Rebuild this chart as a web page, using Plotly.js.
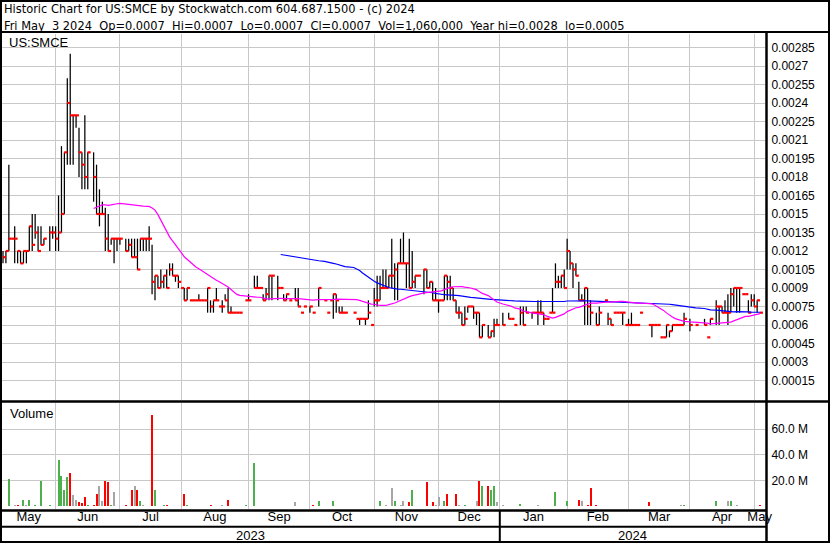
<!DOCTYPE html>
<html><head><meta charset="utf-8">
<script src="https://cdn.plot.ly/plotly-3.0.1.min.js"></script>
<style>html,body{margin:0;padding:0;background:#fff;}#chart{width:830px;height:543px;}</style>
</head><body><div id="chart"></div>
<script>
// ---------- calendar (one slot per weekday) ----------
const firstDay = '2023-05-08', lastDay = '2024-05-03';
function weekdayCalendar(a, b) {
  const out = []; const d = new Date(a + 'T00:00:00Z'); const e = new Date(b + 'T00:00:00Z');
  while (d <= e) { const w = d.getUTCDay(); if (w !== 0 && w !== 6) out.push(d.toISOString().slice(0, 10)); d.setUTCDate(d.getUTCDate() + 1); }
  return out;
}
const dates = weekdayCalendar(firstDay, lastDay);

// ---------- daily data (null = no trade / holiday) ----------
const high = [
 .0012,.0012,.0019,.0013,.0014,.0012,.0012,.0012,.0012,.0014,.0015,.0015,.0014,.0014,.0013,null,.0014,.0014,
 .0014,.00165,.00205,.002,.0026,.0028,.0023,.0023,.0022,.002,.0023,.002,null,.002,.0019,.0017,.0016,.00155,.0015,.0013,.0013,.0013,
 .0013,null,.0013,.0013,.0013,.0013,.0013,.0013,.0013,.0013,.0014,.00125,.001,.001,.00105,.001,.00105,.0011,.0011,.001,.001,
 .0009,.0009,.0009,.0008,.0008,.0008,.00085,.0008,.0008,.0009,.0008,.0008,.0009,.00075,.0008,.00085,.0009,.00075,.0007,.0007,.0007,null,.0008,
 .00085,null,.001,.001,.0009,.00085,.0009,.001,.001,null,.001,.0009,.00085,.00085,.0008,null,.0009,.0009,.0007,.00075,null,
 .00075,.0007,null,.0009,null,.0008,.0007,.0008,.00085,.00085,.00075,.00075,.0007,null,null,.0007,.00065,.00065,.00065,.00065,.0008,.0006,
 .0009,.001,.001,.00105,.00105,.001,.0013,.0011,.0011,.0013,.00135,.0011,.0013,.0012,.001,.001,null,.00105,.00105,.00095,.00095,.0009,
 .0008,.0008,.001,.001,.001,.0009,.0008,.00075,.0007,.00075,.00075,.00075,.00075,.0007,.0007,.0006,null,.0006,.00055,.00065,.00065,
 null,.0007,null,.0007,.00065,.0006,null,.00075,.00075,.00075,null,.0007,.0007,.0008,.0008,.0007,.00065,.0007,.0009,.0011,.001,.001,.00105,
 .0013,.0012,.0011,.0011,.00095,.00085,.0009,.0009,.0008,null,.0007,.00075,null,.0008,.0007,.00065,.0007,.0007,.0007,.0007,.0006,
 .00065,.0007,.0006,.0006,.0007,null,null,.0006,.0006,.0006,.0006,.0005,.0005,.0006,.00055,.0006,.0006,.0006,.0006,.0007,null,
 .00065,null,.0006,null,null,.00065,.0005,.00065,null,.0008,.00075,.00075,.0008,.00085,.0009,.0009,.0009,.0009,.00085,.00085,.0008,.00085,
 .00085,.0008,.0007
];
const low = [
 .0011,.0011,.0012,.0013,.0011,.0011,.0011,.0011,.0011,.0012,.0012,.0013,.0012,.00125,.00125,null,.0012,.0013,
 .0012,.0012,.00135,.0015,.0019,.0019,.0019,.0022,.0018,.0017,.0017,.0017,null,.0016,.0015,.0014,.0015,.0012,.0012,.00125,.0011,.0012,
 .00125,null,.0012,.0012,.00115,.00115,.00105,.0012,.0012,.0012,.0012,.00085,.0008,.0009,.0009,.0009,.0009,.001,.001,.00095,.0009,
 .0009,.0008,.0008,.0008,.0008,.0008,.0008,.0008,.0008,.0007,.0007,.0007,.0008,.00075,.0007,.0008,.0007,.0007,.0007,.0007,.0007,null,.0008,
 .0008,null,.0009,.0009,.0009,.0008,.0008,.0008,.0008,null,.0008,.0009,.0008,.0008,.0008,null,.0008,.00075,.0007,.00075,null,
 .0007,.0007,null,.00075,null,.0008,.0007,.0008,.00065,.0007,.0007,.0007,.0007,null,null,.0007,.00065,.0006,.00065,.0006,.00065,.0006,
 .00075,.00075,.0008,.0009,.0009,.0009,.0009,.0008,.0008,.0011,.0011,.0009,.0009,.0009,.0009,.001,null,.00085,.0009,.0009,.0008,.0008,
 .0007,.0008,.0008,.0008,.0008,.0008,.0007,.00065,.0006,.0006,.0007,.00075,.00065,.0006,.0005,.0005,null,.0005,.0005,.0005,.0006,
 null,.0006,null,.00065,.00065,.0006,null,.0006,.0006,.0007,null,.00065,.0007,.0006,.0007,.0006,.00065,.0007,.0007,.0009,.0009,.0009,.0009,
 .00105,.00105,.0009,.001,.0008,.0008,.0006,.0006,.0006,null,.0006,.0006,null,.0008,.0006,.0006,.0007,.0007,.0007,.0006,.0006,
 .0006,.0006,.0006,.0006,.0007,null,null,.0006,.0005,.0006,.0006,.0005,.0005,.0005,.0005,.00055,.0006,.0006,.0006,.0006,null,
 .00055,null,.0006,null,null,.0006,.0005,.0006,null,.0006,.0006,.0007,.0007,.0006,.0007,.00075,.0007,.0007,.00085,.00085,.0007,.00075,
 .00075,.0007,.0007
];
const close = [
 .00115,.0012,.0013,.0013,.0013,.0012,.0011,.0012,.0012,.0014,.00125,.00135,.0012,.00125,.0013,null,.00135,.00135,
 .0013,.00135,.0015,.002,.0024,.0023,.0023,.0023,.002,.0019,.0018,.002,null,.0018,.0015,.0015,.0015,.0013,.0012,.0013,.0013,.0013,
 .0013,null,.0012,.00125,.00115,.00115,.00105,.0013,.0013,.0013,.0013,.00095,.001,.0009,.00095,.001,.0009,.00105,.001,.001,.00095,
 .0009,.0008,.0009,.0008,.0008,.0008,.0008,.0008,.0008,.0009,.00075,.0008,.0008,.00075,.00075,.0008,.0007,.0007,.0007,.0007,.0007,null,.0008,
 .0008,null,.0009,.0009,.0009,.0008,.00085,.001,.001,null,.0009,.0009,.0008,.00085,.0008,null,.0008,.00075,.0007,.00075,null,
 .00075,.0007,null,.0009,null,.0008,.0007,.0008,.00085,.0008,.0007,.0007,.0007,null,null,.0007,.00065,.00065,.00065,.00065,.0007,.0006,
 .0008,.0008,.0009,.0009,.0009,.001,.001,.00105,.0011,.0011,.0011,.0011,.0009,.00095,.001,.001,null,.00105,.0009,.00095,.0008,.0008,
 .0008,.0008,.001,.00095,.0009,.0008,.0007,.0007,.0006,.00065,.00075,.00075,.0007,.0007,.0005,.0006,null,.0005,.00055,.0006,.0006,
 null,.0006,null,.00065,.00065,.0006,null,.0007,.0006,.0007,null,.0007,.0007,.0007,.0007,.00065,.00065,.0007,.0007,.00095,.00095,.001,.0009,
 .0012,.0011,.00105,.001,.0008,.0008,.0009,.00075,.0007,null,.0006,.0007,null,.0008,.00065,.0006,.0007,.0007,.0007,.0007,.0006,
 .0006,.0006,.0006,.0006,.0007,null,null,.0006,.0006,.0006,.0006,.0005,.0005,.0006,.00055,.0006,.0006,.0006,.0006,.00065,null,
 .0006,null,.0006,null,null,.0006,.0005,.00065,null,.00075,.00075,.0007,.0007,.0007,.00085,.0009,.0009,.0009,.00085,.00085,.0007,.0008,
 .00075,.0008,.0007
];
const volumeMillions = [
 .2,.2,21,.5,1.3,1.3,.3,5.4,1.5,5.4,.5,1.5,.5,20,.2,null,.8,.2,
 .5,36,24,12.4,23,26,9,5.4,3.4,2.6,7.7,1.5,null,.8,9.3,16,4.6,20,19,.8,11,.4,
 .4,null,.8,.3,13,15.5,13,4.6,.8,.3,.2,71,12.4,.4,.2,1.5,.8,.2,.2,.2,.4,
 .4,10,.8,.2,.2,.2,.3,.3,.3,.2,1.5,.2,.4,.2,1.5,.2,5.4,.3,.2,.2,.3,null,.8,
 .2,null,34,.2,.2,.4,.2,.3,.3,null,.2,.2,.3,.4,.2,null,3.4,.2,.2,.2,null,
 .2,.8,null,3.9,null,.2,.2,.2,4.6,.2,.4,.2,.2,null,null,.2,.2,.2,.2,.2,.4,.2,
 .4,.2,4.6,.2,1.3,.2,14.5,3.9,.5,1.5,3.9,.2,3.4,13,.2,.3,null,.4,19,.2,3.4,1.5,
 7.7,.3,4.6,9.3,.4,.2,9.3,.8,.4,1.5,.3,.2,.4,4.6,20,15.5,null,15.5,12.4,15.5,3.4,
 null,1.5,null,.2,.3,.4,null,2,.4,.2,null,.2,.2,.8,.4,.2,.2,.2,.2,11,.3,.5,.2,
 4.6,.2,.2,.2,5.4,4.6,.2,1,14,null,1.3,.4,null,.2,.4,.2,.2,.2,.2,.2,.2,
 .2,.2,.2,.2,.2,null,null,3.4,.2,.2,.4,.4,.2,.2,.3,.2,.2,.2,.8,1.5,null,
 .3,null,.2,null,null,.2,.2,.3,null,3.9,.2,.2,.2,4.6,4.6,.2,1.2,.2,.2,.2,.4,.2,
 .4,.4,1.06
];

// ---------- axis labels ----------
const monthNames = ['May','Jun','Jul','Aug','Sep','Oct','Nov','Dec','Jan','Feb','Mar','Apr','May'];
const monthLabelAt = ['2023-05-19 08:00','2023-06-16 12:00','2023-07-18 00:00','2023-08-17 00:00','2023-09-15 23:00','2023-10-17 12:00',
  '2023-11-16 12:00','2023-12-15 23:00','2024-01-17 00:00','2024-02-16 00:00','2024-03-15 23:00','2024-04-16 12:00','2024-05-03 08:38'];
const monthStarts = ['2023-06-01','2023-07-03','2023-08-01','2023-09-01','2023-10-02','2023-11-01','2023-12-01',
  '2024-01-01','2024-02-01','2024-03-01','2024-04-01','2024-05-01'];
const yearLabels = ['2023','2024'];
const yearLabelAt = ['2023-09-04 08:00','2024-03-04 20:24'];
const priceTicks = [.00015,.0003,.00045,.0006,.00075,.0009,.00105,.0012,.00135,.0015,.00165,.0018,.00195,.0021,.00225,.0024,.00255,.0027,.00285];
const volumeTicks = [20,40,60];

// ---------- derived ----------
const at = (d, hm) => d + ' ' + hm;
const barX = [], barY = [];
dates.forEach((d, i) => { if (high[i] != null && high[i] > low[i]) { barX.push(at(d,'12:00'), at(d,'12:00'), null); barY.push(low[i], high[i], null); } });
function sma(n) {
  const pts = []; dates.forEach((d, i) => { if (close[i] != null) pts.push([d, close[i]]); });
  const x = [], y = [];
  for (let k = n - 1; k < pts.length; k++) { let s = 0; for (let j = k - n + 1; j <= k; j++) s += pts[j][1]; x.push(at(pts[k][0],'12:00')); y.push(s / n); }
  return { x, y };
}
const ma30 = sma(30), ma90 = sma(90);
const GREEN = '#4cb04c', RED = '#ff0000', GREY = '#a6a6a6';
let prev = null;
const volColor = close.map(c => {
  if (c == null) return GREY;
  const col = prev == null ? GREY : (c > prev + 1e-12 ? GREEN : (c < prev - 1e-12 ? RED : GREY));
  prev = c; return col;
});

const FONT = 'Liberation Sans, Arial, sans-serif';
const NARROW = 'Liberation Sans Narrow, Arial Narrow, DejaVu Sans Condensed, sans-serif';
const W = 830, H = 543;
const px = x => x / W, py = y => 1 - y / H;

const traces = [
  { type:'bar', x: dates.map(d => at(d,'12:00')), y: volumeMillions, xaxis:'x', yaxis:'y2',
    width: 0.68 * 86400000, marker:{ color: volColor, line:{ width:0 } }, hoverinfo:'skip' },
  { type:'scatter', mode:'lines', x: barX, y: barY, xaxis:'x', yaxis:'y', connectgaps:false,
    line:{ color:'#000', width:1.25 }, hoverinfo:'skip' },
  { type:'scatter', mode:'markers', x: dates.map(d => at(d,'23:00')), y: close, xaxis:'x', yaxis:'y',
    marker:{ symbol:'line-ew', size:2.2, color:RED, line:{ width:2.2, color:RED } }, hoverinfo:'skip' },
  { type:'scatter', mode:'lines', x: ma90.x, y: ma90.y, xaxis:'x', yaxis:'y', line:{ color:'#0000ff', width:1.2 }, hoverinfo:'skip' },
  { type:'scatter', mode:'lines', x: ma30.x, y: ma30.y, xaxis:'x', yaxis:'y', line:{ color:'#ff00ff', width:1.2 }, hoverinfo:'skip' }
];

const blackLine = (x0, y0, x1, y1, w, xref) => ({ type:'line', xref: xref || 'paper', yref:'paper', x0, y0, x1, y1, line:{ color:'#000', width:w }, layer:'above' });

const layout = {
  width: W, height: H, margin:{ l:0, r:0, t:0, b:0 },
  paper_bgcolor:'#fff', plot_bgcolor:'#fff', showlegend:false, hovermode:false,
  font:{ family: FONT, size:12, color:'#000' },
  bargap: 0,
  xaxis:{
    type:'date', domain:[px(2), px(765)], anchor:'y2',
    range:['2023-05-08 03:47','2024-05-07 04:34'],
    rangebreaks:[{ bounds:['sat','mon'] }],
    tickmode:'array', tickvals: monthLabelAt, ticktext: monthNames,
    showgrid:false, zeroline:false, showline:false,
    ticks:'', ticklen:0, ticklabelstandoff:-2, tickfont:{ size:13, family: FONT, color:'#000' },
    minor:{ tickmode:'array', tickvals: monthStarts.map(d => at(d,'11:00')), showgrid:true, gridcolor:'#c8c8c8', gridwidth:1, ticks:'' }
  },
  yaxis:{
    domain:[(H-400)/H, (H-34)/H], anchor:'x', side:'right',
    range:[-0.0000081, 0.0029595],
    tickmode:'array', tickvals: priceTicks, ticktext: priceTicks.map(v => String(+v.toFixed(5))),
    showgrid:true, gridcolor:'#c8c8c8', gridwidth:1, zeroline:false, showline:false,
    ticks:'outside', ticklen:3, tickcolor:'rgba(0,0,0,0)', tickfont:{ size:12, family: FONT, color:'#000' }
  },
  yaxis2:{
    domain:[(H-509)/H, (H-403)/H], anchor:'x', side:'right',
    range:[-1.94, 80.14],
    tickmode:'array', tickvals: volumeTicks, ticktext: volumeTicks.map(v => v.toFixed(1) + ' M'),
    showgrid:true, gridcolor:'#c8c8c8', gridwidth:1, zeroline:false, showline:false,
    ticks:'outside', ticklen:3, tickcolor:'rgba(0,0,0,0)', tickfont:{ size:12, family: FONT, color:'#000' }
  },
  shapes:[
    { type:'rect', xref:'paper', yref:'paper', x0:px(1), y0:py(542), x1:px(829), y1:py(1), line:{ color:'#000', width:2 }, layer:'above' },
    blackLine(0, py(32), 1, py(32), 2),
    blackLine(px(766.5), py(33), px(766.5), 0, 2.5),
    blackLine(0, py(401.5), 1, py(401.5), 2.5),
    blackLine(0, py(510.5), px(766.5), py(510.5), 2.5),
    blackLine(0, py(526.7), px(766.5), py(526.7), 2),
    blackLine('2024-01-01 11:00', py(510), '2024-01-01 11:00', 0, 2, 'x')
  ],
  annotations:[
    { xref:'paper', yref:'paper', x:px(3), y:py(16.8), xanchor:'left', yanchor:'bottom', showarrow:false, borderpad:0,
      text:'Historic Chart for US:SMCE by Stockwatch.com 604.687.1500 - (c) 2024', font:{ family: NARROW, size:12.7, color:'#000' } },
    { xref:'paper', yref:'paper', x:px(3), y:py(16.8), xanchor:'left', yanchor:'top', showarrow:false, borderpad:0,
      text:'Fri May\u00a0\u00a03 2024\u00a0\u00a0Op=0.0007\u00a0\u00a0Hi=0.0007\u00a0\u00a0Lo=0.0007\u00a0\u00a0Cl=0.0007\u00a0\u00a0Vol=1,060,000\u00a0\u00a0Year hi=0.0028\u00a0\u00a0lo=0.0005',
      font:{ family: NARROW, size:12.7, color:'#000' } },
    { xref:'paper', yref:'paper', x:px(7), y:py(42), xanchor:'left', yanchor:'middle', showarrow:false,
      text:'US:SMCE', font:{ family: FONT, size:13, color:'#000' } },
    { xref:'paper', yref:'paper', x:px(8), y:py(413.5), xanchor:'left', yanchor:'middle', showarrow:false,
      text:'Volume', font:{ family: FONT, size:13, color:'#000' } },
    { xref:'x', yref:'paper', x: yearLabelAt[0], y:py(535), xanchor:'center', yanchor:'middle', showarrow:false,
      text: yearLabels[0], font:{ family: FONT, size:13, color:'#000' } },
    { xref:'x', yref:'paper', x: yearLabelAt[1], y:py(535), xanchor:'center', yanchor:'middle', showarrow:false,
      text: yearLabels[1], font:{ family: FONT, size:13, color:'#000' } }
  ]
};

Plotly.newPlot('chart', traces, layout, { staticPlot:true, displayModeBar:false });
</script></body></html>
